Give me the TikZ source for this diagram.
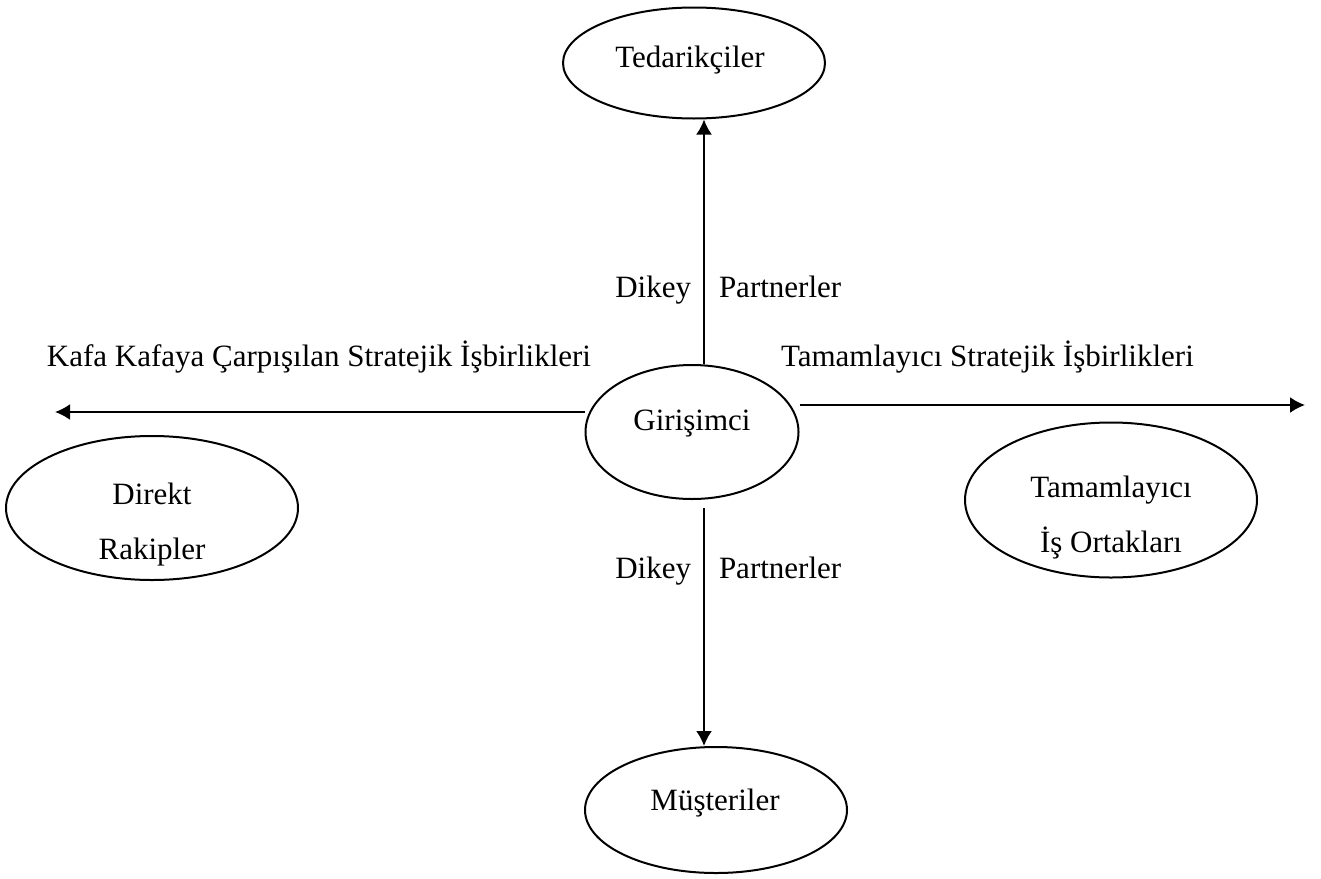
\documentclass[tikz,border=0pt]{standalone}
\usepackage{fontspec}
\setmainfont{Liberation Serif}
\usetikzlibrary{shapes.geometric,arrows.meta}

\begin{document}
\begin{tikzpicture}[
    x=0.5pt, y=-0.5pt,
    line width=1pt,
    font=\fontsize{15.5}{27.5}\selectfont,
    oval/.style={draw, ellipse, inner sep=0pt},
    txt/.style={inner sep=0pt, align=center},
    >={Latex[length=7.5pt,width=8pt]} % Pfeilspitzen
    ]
        \useasboundingbox (0,0) rectangle (1321,878);

        % Ellipsen
        \node[oval, minimum width=131pt, minimum height=55.5pt] (ted) at (694,63)   {};
        \node[oval, minimum width=106.5pt, minimum height=67pt] (gir) at (692,432)  {};
        \node[oval, minimum width=131pt, minimum height=63pt]   (mus) at (716,810)  {};
        \node[oval, minimum width=146pt, minimum height=72pt]   (rak) at (152,508)  {};
        \node[oval, minimum width=146pt, minimum height=77.5pt] (ort) at (1111,500) {};

        % Texte in den Ellipsen
        \node[txt, anchor=base] (tedT) at (690,67)   {Tedarikçiler};
        \node[txt, anchor=base] (girT) at (692,430)  {Girişimci};
        \node[txt, anchor=base] (musT) at (715,810)  {Müşteriler};
        \node[txt]              (rakT) at (152,525)  {Direkt\\Rakipler};
        \node[txt]              (ortT) at (1111,518) {Tamamlayıcı\\İş Ortakları};

        % Hilfspunkte
        \coordinate (axis) at (704,0);
        \coordinate (lt) at (55,412);
        \coordinate (rt) at (1305,405);

        % Pfeile
        \draw[->] (gir.north -| axis) -- (ted.south -| axis);
        \draw[->, shorten <=4pt] (gir.south -| axis) -- (mus.north -| axis);
        \draw[->] (gir.west |- lt) -- (lt);
        \draw[->] (gir.east |- rt) -- (rt);

        % Beschriftungen
        \node[txt, anchor=base east] (dik1) at (692,297) {Dikey};
        \node[txt, anchor=base west] (par1) at (718,297) {Partnerler};
        \node[txt, anchor=base east] (dik2) at (692,578) {Dikey};
        \node[txt, anchor=base west] (par2) at (718,578) {Partnerler};
        \node[txt, anchor=base east] (kafa) at (592,366) {Kafa Kafaya Çarpışılan Stratejik İşbirlikleri};
        \node[txt, anchor=base west] (tama) at (780,366) {Tamamlayıcı Stratejik İşbirlikleri};
\end{tikzpicture}
\end{document}
